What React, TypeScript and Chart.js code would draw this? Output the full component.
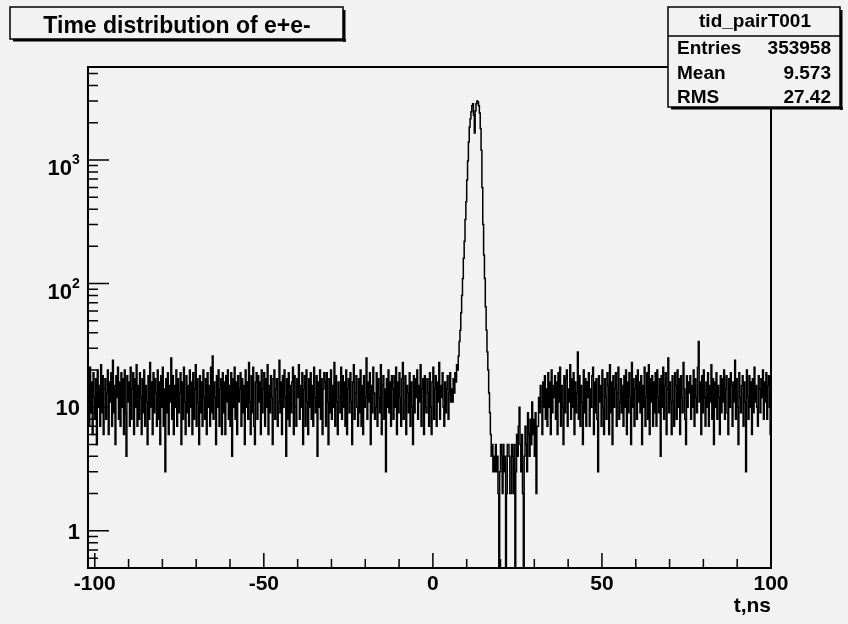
import React, { useEffect, useRef } from 'react';
import { Chart, registerables } from 'chart.js';

Chart.register(...registerables);

// ---------- data ----------
const TITLE = 'Time distribution of e+e-';
const X_TITLE = 't,ns';
const HIST_MIN = -102;
const HIST_MAX = 100;
const BIN_WIDTH = 0.25;
const Y_MIN = 0.5;
const Y_MAX = 5650;

// background before the peak (t = -102 .. 5.5)
const COUNTS_LEFT = [
  18, 7, 21, 9, 16, 6, 19, 12, 8, 17, 5, 20, 10, 15, 7, 22, 9, 18, 6, 14,
  17, 8, 13, 20, 6, 16, 11, 19, 7, 24, 9, 15, 5, 18, 12, 21, 8, 16, 7, 19,
  10, 17, 6, 20, 9, 4, 18, 11, 16, 7, 21, 8, 14, 19, 6, 17, 10, 22, 7, 15,
  8, 19, 12, 6, 17, 9, 20, 7, 15, 11, 5, 18, 8, 23, 10, 16, 6, 19, 9, 17,
  13, 7, 20, 8, 16, 5, 18, 10, 21, 7, 14, 3, 17, 9, 19, 6, 15, 11, 25, 8,
  18, 6, 15, 10, 20, 7, 17, 9, 13, 19, 5, 16, 8, 21, 11, 6, 18, 9, 15, 7,
  20, 10, 16, 6, 19, 8, 14, 22, 7, 17, 11, 5, 18, 9, 16, 7, 20, 12, 8, 17,
  6, 19, 10, 15, 7, 21, 9, 26, 8, 16, 12, 5, 18, 10, 20, 7, 14, 17, 6, 19,
  9, 16, 6, 18, 11, 20, 8, 15, 7, 19, 4, 17, 10, 21, 8, 16, 6, 18, 11, 14,
  19, 7, 17, 9, 15, 5, 20, 10, 16, 8, 23, 11, 6, 18, 9, 21, 7, 5, 16, 19,
  8, 18, 11, 16, 6, 20, 9, 14, 19, 7, 17, 10, 22, 6, 15, 9, 18, 12, 5, 17,
  20, 8, 14, 17, 7, 11, 24, 9, 16, 6, 18, 10, 20, 12, 4, 17, 8, 19, 7, 15,
  9, 16, 21, 6, 18, 10, 7, 17, 12, 22, 8, 15, 10, 19, 5, 14, 18, 7, 20, 11,
  6, 17, 10, 19, 8, 15, 7, 21, 12, 9, 18, 4, 16, 10, 20, 8, 17, 6, 14, 19,
  16, 7, 19, 11, 5, 17, 9, 20, 8, 15, 10, 23, 7, 18, 11, 6, 16, 12, 9, 21,
  8, 18, 10, 16, 7, 20, 6, 14, 17, 9, 19, 11, 5, 16, 22, 8, 13, 18, 10, 7,
  17, 9, 20, 7, 15, 6, 18, 10, 12, 25, 8, 16, 11, 19, 5, 15, 9, 21, 13, 8,
  10, 19, 7, 17, 12, 9, 22, 6, 15, 18, 8, 14, 3, 17, 10, 20, 9, 16, 7, 18,
  14, 8, 18, 10, 21, 6, 16, 9, 19, 12, 7, 17, 23, 8, 11, 18, 6, 15, 13, 9,
  19, 7, 16, 10, 5, 18, 9, 17, 12, 20, 8, 15, 11, 22, 7, 14, 17, 6, 18, 10,
  9, 17, 13, 7, 19, 10, 6, 16, 21, 8, 14, 18, 7, 16, 11, 23, 8, 15, 12, 19,
  10, 7, 16, 9, 14, 18, 8, 13, 19, 11,
];
// t = 5.5 .. 7.5
const COUNTS_RISE = [14, 11, 17, 13, 19, 16, 22, 20];
// t = 7.5 .. 18 (the e+e- peak)
const COUNTS_PEAK = [
  26, 34, 42, 58, 80, 110, 160, 220, 330, 460, 690, 980, 1400, 1850, 2150, 2450,
  2750, 2850, 2300, 1650, 2500, 2850, 3000, 2950, 2750, 2400, 1800, 1200, 600, 300,
  170, 110, 65, 42, 28, 20, 13, 9, 6, 4, 5, 3,
];
// t = 18 .. 31 (depleted region after the peak)
const COUNTS_DIP = [
  4, 3, 5, 3, 4, 2, 0, 3, 5, 4, 2, 5, 3, 4, 0, 2, 5, 5, 4, 2,
  2, 5, 4, 2, 5, 0, 3, 6, 4, 7, 10, 5, 3, 6, 2, 0, 4, 7, 5, 3,
  9, 6, 4, 8, 5, 11, 6, 8, 4, 9, 2, 7,
];
// t = 31 .. 100
const COUNTS_RIGHT = [
  7, 12, 9, 15, 11, 6, 16, 10, 18, 8, 14, 7, 19, 10, 16, 6, 20, 9, 15, 12,
  18, 8, 16, 6, 19, 11, 21, 7, 15, 10, 5, 18, 9, 17, 20, 7, 14, 11, 22, 8,
  17, 10, 19, 6, 16, 9, 13, 28, 8, 18, 7, 15, 11, 5, 20, 9, 17, 7, 16, 12,
  19, 7, 14, 10, 18, 21, 6, 16, 9, 17, 8, 3, 18, 11, 15, 7, 20, 10, 6, 17,
  12, 8, 19, 15, 6, 22, 9, 16, 5, 18, 10, 14, 19, 7, 13, 21, 8, 11, 17, 9,
  15, 7, 18, 10, 20, 6, 16, 9, 19, 12, 5, 23, 10, 17, 7, 14, 18, 8, 20, 11,
  16, 9, 18, 5, 15, 10, 21, 7, 12, 19, 8, 22, 6, 17, 11, 18, 7, 16, 9, 19,
  7, 20, 12, 9, 17, 4, 18, 10, 21, 8, 15, 19, 6, 14, 25, 9, 16, 11, 6, 18,
  11, 7, 19, 15, 8, 20, 10, 17, 6, 18, 12, 9, 23, 14, 8, 5, 18, 10, 16, 13,
  18, 8, 15, 10, 20, 7, 17, 12, 9, 21, 34, 11, 16, 6, 18, 9, 20, 12, 7, 16,
  10, 19, 7, 15, 11, 22, 8, 17, 5, 16, 10, 19, 8, 15, 12, 6, 18, 9, 17, 11,
  20, 8, 14, 18, 9, 6, 17, 10, 19, 15, 7, 16, 11, 24, 8, 17, 10, 5, 19, 12,
  9, 15, 18, 7, 16, 11, 3, 20, 12, 8, 18, 10, 16, 6, 17, 9, 21, 11, 15, 10,
  7, 18, 14, 9, 17, 12, 20, 8, 16, 11, 19, 8, 15, 18, 10, 6,
];

const X_TICKS = [-100, -90, -80, -70, -60, -50, -40, -30, -20, -10, 0, 10, 20, 30, 40, 50, 60, 70, 80, 90, 100];
const X_LABELS = [-100, -50, 0, 50, 100];
const Y_MAJOR = [1, 10, 100, 1000];
const Y_MINOR = [
  0.5, 0.6, 0.7, 0.8, 0.9,
  2, 3, 4, 5, 6, 7, 8, 9,
  20, 30, 40, 50, 60, 70, 80, 90,
  200, 300, 400, 500, 600, 700, 800, 900,
  2000, 3000, 4000, 5000,
];
const Y_LABEL_VALUES = [1, 10, 100, 1000];
const Y_LABEL_BASE = ['1', '10', '10', '10'];
const Y_LABEL_EXP = ['', '', '2', '3'];

const STATS_NAME = 'tid_pairT001';
const STATS_LABELS = ['Entries', 'Mean', 'RMS'];
const STATS_VALUES = ['353958', '9.573', '27.42'];

// ---------- style ----------
const BG = '#f2f2f2';
const FONT = '"Liberation Sans", Arial, Helvetica, sans-serif';

function drawShadowBox(ctx: CanvasRenderingContext2D, l: number, t: number, r: number, b: number) {
  ctx.fillStyle = BG;
  ctx.fillRect(l, t, r - l, b - t);
  ctx.fillStyle = '#000';
  ctx.fillRect(r, t + 3, 2.5, b - t);
  ctx.fillRect(l + 3, b, r - l, 2.5);
  ctx.lineWidth = 1.5;
  ctx.strokeStyle = '#000';
  ctx.strokeRect(l, t, r - l, b - t);
}

const rootPlugin = {
  id: 'rootStyle',
  beforeDraw(chart: any) {
    const ctx = chart.ctx as CanvasRenderingContext2D;
    ctx.save();
    ctx.fillStyle = BG;
    ctx.fillRect(0, 0, chart.width, chart.height);
    ctx.restore();
  },
  afterDraw(chart: any) {
    const ctx = chart.ctx as CanvasRenderingContext2D;
    const a = chart.chartArea;
    const xs = chart.scales.x;
    const ys = chart.scales.y;
    ctx.save();
    ctx.strokeStyle = '#000';
    ctx.fillStyle = '#000';

    // frame
    ctx.lineWidth = 2;
    ctx.strokeRect(a.left, a.top, a.right - a.left, a.bottom - a.top);

    // ticks (ROOT style: inside the frame)
    ctx.lineWidth = 1.5;
    ctx.beginPath();
    X_TICKS.forEach((t) => {
      const px = xs.getPixelForValue(t);
      const len = X_LABELS.includes(t) ? 15 : 9;
      ctx.moveTo(px, a.bottom);
      ctx.lineTo(px, a.bottom - len);
    });
    Y_MAJOR.forEach((v) => {
      const py = ys.getPixelForValue(v);
      ctx.moveTo(a.left, py);
      ctx.lineTo(a.left + 21, py);
    });
    Y_MINOR.forEach((v) => {
      const py = ys.getPixelForValue(v);
      ctx.moveTo(a.left, py);
      ctx.lineTo(a.left + 10, py);
    });
    ctx.stroke();

    // x labels
    ctx.font = `bold 21px ${FONT}`;
    ctx.textAlign = 'center';
    ctx.textBaseline = 'alphabetic';
    X_LABELS.forEach((t) => {
      ctx.fillText(String(t), xs.getPixelForValue(t), a.bottom + 22);
    });
    // x title
    ctx.textAlign = 'right';
    ctx.fillText(X_TITLE, a.right, a.bottom + 44);

    // y labels
    Y_LABEL_VALUES.forEach((v, i) => {
      const py = ys.getPixelForValue(v);
      if (Y_LABEL_EXP[i]) {
        ctx.font = `bold 22px ${FONT}`;
        ctx.textAlign = 'right';
        ctx.fillText(Y_LABEL_BASE[i], a.left - 16, py + 15);
        ctx.font = `bold 14px ${FONT}`;
        ctx.textAlign = 'left';
        ctx.fillText(Y_LABEL_EXP[i], a.left - 16, py + 4);
      } else {
        ctx.font = `bold 22px ${FONT}`;
        ctx.textAlign = 'right';
        ctx.fillText(Y_LABEL_BASE[i], a.left - 8, py + 8);
      }
    });

    // title box
    drawShadowBox(ctx, 10, 7, 343, 39);
    ctx.fillStyle = '#000';
    ctx.font = `bold 23px ${FONT}`;
    ctx.textAlign = 'center';
    ctx.fillText(TITLE, 177, 33);

    // stats box
    drawShadowBox(ctx, 668, 7, 840, 107);
    ctx.lineWidth = 1.5;
    ctx.beginPath();
    ctx.moveTo(668, 36);
    ctx.lineTo(840, 36);
    ctx.stroke();
    ctx.fillStyle = '#000';
    ctx.font = `bold 19px ${FONT}`;
    ctx.textAlign = 'center';
    ctx.fillText(STATS_NAME, 755, 27);
    STATS_LABELS.forEach((lab, i) => {
      const by = 54 + i * 24.5;
      ctx.textAlign = 'left';
      ctx.fillText(lab, 677, by);
      ctx.textAlign = 'right';
      ctx.fillText(STATS_VALUES[i], 831, by);
    });

    ctx.restore();
  },
};

export default function App() {
  const ref = useRef<HTMLCanvasElement>(null);
  useEffect(() => {
    const canvas = ref.current;
    if (!canvas) return;
    const counts = [...COUNTS_LEFT, ...COUNTS_RISE, ...COUNTS_PEAK, ...COUNTS_DIP, ...COUNTS_RIGHT];
    // empty bins cannot sit on a log axis: like ROOT, send them below the frame (clipped at the bottom)
    const plotY = (v: number) => (v > 0 ? v : Y_MIN / 10);
    const pts = counts.map((v, i) => ({ x: HIST_MIN + i * BIN_WIDTH, y: plotY(v) }));
    pts.push({ x: HIST_MAX, y: plotY(counts[counts.length - 1]) });
    const chart = new Chart(canvas, {
      type: 'line',
      data: {
        datasets: [
          {
            data: pts,
            borderColor: '#000',
            borderWidth: 1.5,
            stepped: true,
            pointRadius: 0,
            fill: false,
          },
        ],
      },
      options: {
        responsive: false,
        animation: false,
        events: [],
        layout: { padding: { left: 88, top: 67, right: 77, bottom: 56 } },
        plugins: {
          legend: { display: false },
          tooltip: { enabled: false },
          title: { display: false },
        },
        scales: {
          x: { type: 'linear', min: HIST_MIN, max: HIST_MAX, display: false },
          y: { type: 'logarithmic', min: Y_MIN, max: Y_MAX, display: false },
        },
      },
      plugins: [rootPlugin],
    } as any);
    return () => chart.destroy();
  }, []);
  return (
    <div style={{ position: 'fixed', left: 0, top: 0, width: 848, height: 624, background: BG }}>
      <canvas ref={ref} width={848} height={624} style={{ display: 'block', width: 848, height: 624 }} />
    </div>
  );
}
